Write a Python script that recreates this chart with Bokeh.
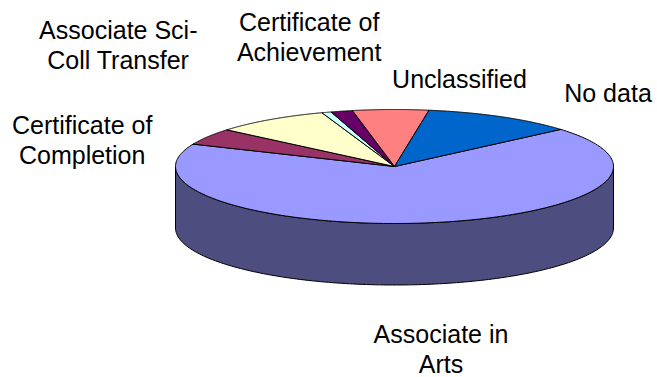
import numpy as np
from bokeh.plotting import figure
from bokeh.models import Range1d
from bokeh.core.properties import value
from bokeh.embed import file_html
from bokeh.resources import INLINE

categories = ["Associate in Arts", "Certificate of Completion", "Associate Sci-Coll Transfer", "",
              "Certificate of Achievement", "Unclassified", "No data"]
shares = [67.7, 4.7, 8.5, 0.7, 1.6, 5.6, 11.2]
colors = ["#9999FF", "#993366", "#FFFFCC", "#CCFFFF", "#660066", "#FF8080", "#0066CC"]
side_color = "#4D4D80"
label_lines = ["Associate in\nArts", "Certificate of\nCompletion", "Associate Sci-\nColl Transfer", "",
               "Certificate of\nAchievement", "Unclassified", "No data"]

# layout (pixels of the picture)
CX, CY, RX, RY, DEPTH = 394.0, 166.0, 219.0, 57.0, 61.5
FIRST_ANGLE = 49.4
LABEL_X = [440.5, 81.7, 117.8, 0, 308.7, 459, 607.5]
LABEL_BASE = [372.0, 163.3, 68.3, 0, 60, 87.7, 101.7]   # baseline of the last line
FONT = 25
LEAD = 30.0

p = figure(width=657, height=377, output_backend="svg", toolbar_location=None,
           x_range=Range1d(0, 657), y_range=Range1d(377, 0), min_border=0,
           outline_line_color=None)
p.axis.visible = False
p.grid.visible = False
p.background_fill_color = "white"
p.border_fill_color = "white"


def rim(deg):
    a = np.radians(deg)
    return CX + RX * np.sin(a), CY - RY * np.cos(a)


total = sum(shares)
edges = FIRST_ANGLE + np.concatenate([[0], np.cumsum(shares)]) * 360.0 / total

# side wall: the part of every slice that lies on the front half of the rim
for i in range(len(shares)):
    lo, hi = max(edges[i], 90.0), min(edges[i + 1], 270.0)
    if hi <= lo:
        continue
    t = np.linspace(lo, hi, 160)
    x, y = rim(t)
    p.patch(np.r_[x, x[::-1]], np.r_[y, y[::-1] + DEPTH], fill_color=side_color,
            line_color="black", line_width=1, line_join="round")

# top face
for i in range(len(shares)):
    t = np.linspace(edges[i], edges[i + 1], 200)
    x, y = rim(t)
    p.patch(np.r_[CX, x], np.r_[CY, y], fill_color=colors[i],
            line_color="black", line_width=1, line_join="round")

# labels
for i, txt in enumerate(label_lines):
    if not txt:
        continue
    lines = txt.split("\n")
    for k, line in enumerate(lines):
        p.text([LABEL_X[i]], [LABEL_BASE[i] - LEAD * (len(lines) - 1 - k) - 9.0], text=[line],
               text_font=value("Liberation Sans"), text_font_size=f"{FONT}px",
               text_color="black", text_align="center", text_baseline="middle")

open("out.html", "w").write(file_html(p, INLINE))
